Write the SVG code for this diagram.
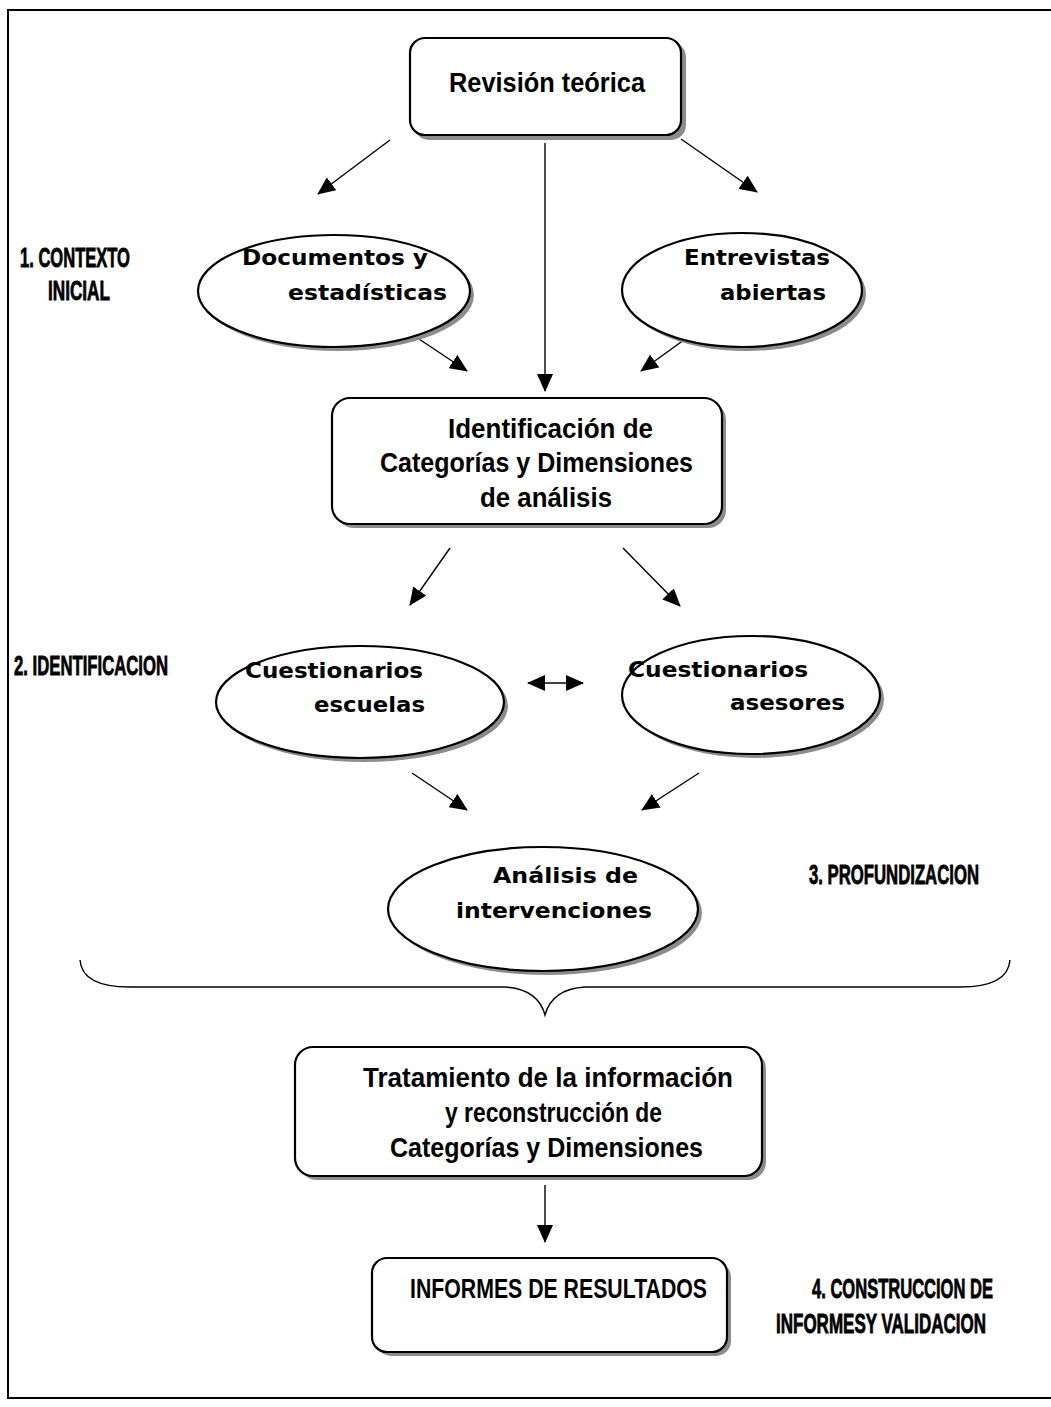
<svg xmlns="http://www.w3.org/2000/svg" width="1051" height="1407" viewBox="0 0 1051 1407">
  <defs>
    <marker id="ah" markerWidth="18" markerHeight="16" refX="17" refY="8" orient="auto" markerUnits="userSpaceOnUse">
      <path d="M0,0 L18,8 L0,16 z" fill="#000"/>
    </marker>
    <marker id="ah2" markerWidth="18" markerHeight="16" refX="17" refY="8" orient="auto-start-reverse" markerUnits="userSpaceOnUse">
      <path d="M0,0 L18,8 L0,16 z" fill="#000"/>
    </marker>
  </defs>
  <style>
    .frame { stroke: #000; stroke-width: 2; fill: none; }
    .shape { fill: #fff; stroke: #000; stroke-width: 2.2; }
    .shadow { fill: #8c8c8c; stroke: none; }
    .link { stroke: #000; stroke-width: 1.4; fill: none; marker-end: url(#ah); }
    .box-t { font-family: "Liberation Sans", Arial, sans-serif; font-weight: bold; font-size: 27px; fill: #000; }
    .ell-t { font-family: "DejaVu Sans", Verdana, sans-serif; font-weight: bold; font-size: 22px; fill: #000; }
    .lbl { font-family: "Liberation Sans", Arial, sans-serif; font-weight: bold; font-size: 16.7px; fill: #000; stroke: #000; stroke-width: 0.5; }
  </style>

  <rect width="1051" height="1407" fill="#fff"/>

  <!-- page frame: top, left and bottom rules -->
  <path class="frame" d="M1051,10 H8 V1398 H1051"/>

  <!-- connectors -->
  <g id="connectors">
    <line class="link" x1="390" y1="140" x2="318" y2="194"/>
    <line class="link" x1="545" y1="143" x2="545" y2="391"/>
    <line class="link" x1="681" y1="139" x2="757" y2="192"/>
    <line class="link" x1="416" y1="337" x2="467" y2="371"/>
    <line class="link" x1="688" y1="337" x2="641" y2="371"/>
    <line class="link" x1="450" y1="548" x2="410" y2="605"/>
    <line class="link" x1="623" y1="548" x2="680" y2="606"/>
    <line x1="528" y1="683" x2="583" y2="683" stroke="#000" stroke-width="1.4" marker-start="url(#ah2)" marker-end="url(#ah2)"/>
    <line class="link" x1="412" y1="773" x2="467" y2="810"/>
    <line class="link" x1="699" y1="773" x2="642" y2="810"/>
    <line class="link" x1="545" y1="1185" x2="545" y2="1242"/>
    <!-- curly brace gathering the first three phases -->
    <path d="M80,960 Q82,987 130,987 L505,987 Q538,989 545,1015 Q552,989 585,987 L960,987 Q1008,987 1010,960" stroke="#000" stroke-width="1.4" fill="none"/>
  </g>

  <g id="revision-teorica">
    <rect class="shadow" x="414" y="42" width="272" height="98" rx="15"/>
    <rect class="shape" x="410" y="38" width="271" height="97" rx="15"/>
    <text class="box-t" x="449" y="92" textLength="196" lengthAdjust="spacingAndGlyphs">Revisión teórica</text>
  </g>

  <g id="documentos">
    <ellipse class="shadow" cx="338" cy="295" rx="136" ry="56"/>
    <ellipse class="shape" cx="334" cy="291" rx="136" ry="56"/>
    <text class="ell-t" x="242" y="265" textLength="186" lengthAdjust="spacingAndGlyphs">Documentos y</text>
    <text class="ell-t" x="288" y="300" textLength="159" lengthAdjust="spacingAndGlyphs">estadísticas</text>
  </g>

  <g id="entrevistas">
    <ellipse class="shadow" cx="746" cy="294" rx="120" ry="57"/>
    <ellipse class="shape" cx="742" cy="290" rx="120" ry="57"/>
    <text class="ell-t" x="684" y="265" textLength="146" lengthAdjust="spacingAndGlyphs">Entrevistas</text>
    <text class="ell-t" x="720" y="300" textLength="106" lengthAdjust="spacingAndGlyphs">abiertas</text>
  </g>

  <g id="identificacion">
    <rect class="shadow" x="336" y="402" width="390" height="126" rx="18"/>
    <rect class="shape" x="332" y="398" width="390" height="126" rx="18"/>
    <text class="box-t" x="448" y="438" textLength="205" lengthAdjust="spacingAndGlyphs">Identificación de</text>
    <text class="box-t" x="380" y="472" textLength="313" lengthAdjust="spacingAndGlyphs">Categorías y Dimensiones</text>
    <text class="box-t" x="480" y="507" textLength="132" lengthAdjust="spacingAndGlyphs">de análisis</text>
  </g>

  <g id="cuestionarios-escuelas">
    <ellipse class="shadow" cx="364" cy="706" rx="144" ry="56"/>
    <ellipse class="shape" cx="360" cy="702" rx="144" ry="56"/>
    <text class="ell-t" x="245" y="678" textLength="178" lengthAdjust="spacingAndGlyphs">Cuestionarios</text>
    <text class="ell-t" x="314" y="712" textLength="111" lengthAdjust="spacingAndGlyphs">escuelas</text>
  </g>

  <g id="cuestionarios-asesores">
    <ellipse class="shadow" cx="755" cy="699" rx="129" ry="59"/>
    <ellipse class="shape" cx="751" cy="695" rx="129" ry="59"/>
    <text class="ell-t" x="628" y="677" textLength="180" lengthAdjust="spacingAndGlyphs">Cuestionarios</text>
    <text class="ell-t" x="730" y="710" textLength="115" lengthAdjust="spacingAndGlyphs">asesores</text>
  </g>

  <g id="analisis">
    <ellipse class="shadow" cx="547" cy="913" rx="155" ry="62"/>
    <ellipse class="shape" cx="543" cy="909" rx="155" ry="62"/>
    <text class="ell-t" x="493" y="883" textLength="145" lengthAdjust="spacingAndGlyphs">Análisis de</text>
    <text class="ell-t" x="456" y="918" textLength="196" lengthAdjust="spacingAndGlyphs">intervenciones</text>
  </g>

  <g id="tratamiento">
    <rect class="shadow" x="299" y="1051" width="467" height="129" rx="18"/>
    <rect class="shape" x="295" y="1047" width="467" height="129" rx="18"/>
    <text class="box-t" x="363" y="1087" textLength="370" lengthAdjust="spacingAndGlyphs">Tratamiento de la información</text>
    <text class="box-t" x="445" y="1122" textLength="217" lengthAdjust="spacingAndGlyphs">y reconstrucción de</text>
    <text class="box-t" x="390" y="1157" textLength="313" lengthAdjust="spacingAndGlyphs">Categorías y Dimensiones</text>
  </g>

  <g id="informes">
    <rect class="shadow" x="376" y="1262" width="355" height="94" rx="15"/>
    <rect class="shape" x="372" y="1258" width="355" height="94" rx="15"/>
    <text class="box-t" x="410" y="1298" font-size="24" textLength="297" lengthAdjust="spacingAndGlyphs">INFORMES DE RESULTADOS</text>
  </g>

  <!-- phase labels: tall condensed lettering -->
  <g id="phase-labels">
    <text class="lbl" transform="translate(20,267) scale(1,1.65)" textLength="110" lengthAdjust="spacingAndGlyphs">1. CONTEXTO</text>
    <text class="lbl" transform="translate(48,300) scale(1,1.65)" textLength="62" lengthAdjust="spacingAndGlyphs">INICIAL</text>
    <text class="lbl" transform="translate(14,675) scale(1,1.65)" textLength="154" lengthAdjust="spacingAndGlyphs">2. IDENTIFICACION</text>
    <text class="lbl" transform="translate(809,884) scale(1,1.65)" textLength="170" lengthAdjust="spacingAndGlyphs">3. PROFUNDIZACION</text>
    <text class="lbl" transform="translate(812,1298) scale(1,1.65)" textLength="181" lengthAdjust="spacingAndGlyphs">4. CONSTRUCCION DE</text>
    <text class="lbl" transform="translate(776,1333) scale(1,1.65)" textLength="210" lengthAdjust="spacingAndGlyphs">INFORMESY VALIDACION</text>
  </g>
</svg>
